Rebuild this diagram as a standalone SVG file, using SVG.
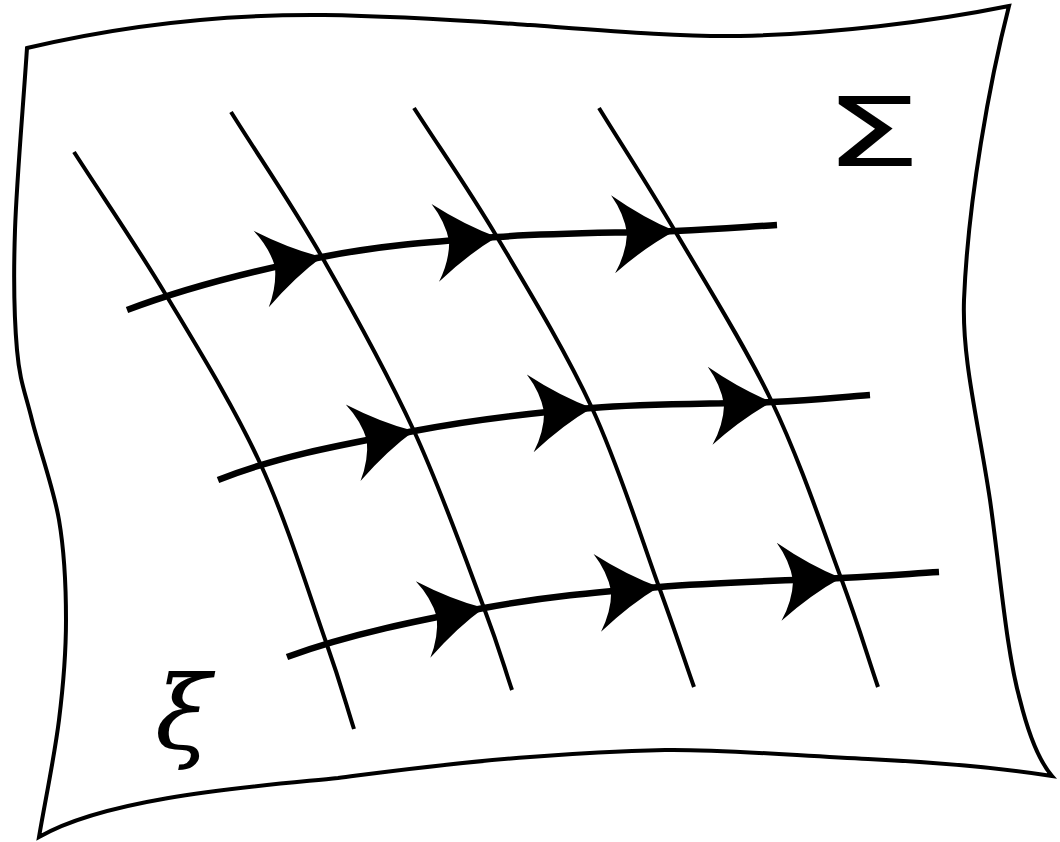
<svg xmlns="http://www.w3.org/2000/svg" width="1060" height="842" viewBox="0 0 1060 842">
<style>
.sheet{fill:none;stroke:#000;stroke-width:4;stroke-linejoin:miter}
.grid{fill:none;stroke:#000;stroke-width:4;stroke-linecap:butt}
.flow{fill:none;stroke:#000;stroke-width:6.5;stroke-linecap:butt}
.ah{fill:#000;stroke:none}
.lbl{fill:#000}
</style>
<defs>
<path id="ah" class="ah" d="M0,0 Q-30,-14 -62,-39 Q-50,-20 -48,0 Q-50,20 -62,39 Q-30,14 0,0 Z"/>
</defs>
<rect width="1060" height="842" fill="#fff"/>
<g id="sheet">
<path class="sheet" d="M27,48 C120,26 220,14 324,15 C400,16 470,21 530,25 C610,31 680,37 740,36 C830,34 930,22 1009,6 C990,80 968,200 964,300 C962,360 978,420 990,500 C1000,570 1006,650 1020,700 C1030,740 1040,762 1052,776 C1000,768 930,762 868,759 C800,756 720,749 665,750 C620,751 580,753 530,757 C450,763 400,770 338,778 C260,786 110,796 39,837 C45.7,798 54.5,756.2 59,720 C63.5,683.8 66,653.3 66,620 C66,586.7 64.7,553.3 59,520 C53.3,486.7 39,448.3 32,420 C25,391.7 19.8,381.7 17,350 C14.2,318.3 13.3,280.3 15,230 C16.7,179.7 23,108.7 27,48 Z"/>
</g>
<g id="grid-lines">
<path id="g1" class="grid" d="M74,152 C104.7,199.7 135,243.2 166,295 C197,346.8 233.3,405.2 260,463 C286.7,520.8 310.3,597.7 326,642 C341.7,686.3 344.7,700 354,729"/>
<path id="g2" class="grid" d="M231,112 C261.3,160.3 291.5,203.8 322,257 C352.5,310.2 387,372.5 414,431 C441,489.5 467.7,564.8 484,608 C500.3,651.2 502.7,662.7 512,690"/>
<path id="g3" class="grid" d="M414,108 C441.7,151 467.3,187 497,237 C526.7,287 565,349.7 592,408 C619,466.3 642,540.5 659,587 C676,633.5 682.3,653.7 694,687"/>
<path id="g4" class="grid" d="M599,108 C624.3,149 646.2,182 675,231 C703.8,280 744.3,344.2 772,402 C799.7,459.8 823.3,530.5 841,578 C858.7,625.5 865.7,650.7 878,687"/>
</g>
<g id="flow-lines">
<path id="f1" class="flow" d="M127,310 C190.3,286 260.3,269.2 322,257 C383.7,244.8 438.2,241.3 497,237 C555.8,232.7 628.3,233 675,231 C721.7,229 743,227 777,225"/>
<path id="f2" class="flow" d="M218,480 C281.3,454.7 351.7,443 414,431 C476.3,419 532.3,412.8 592,408 C651.7,403.2 725.7,404.2 772,402 C818.3,399.8 837.3,397.3 870,395"/>
<path id="f3" class="flow" d="M287,657 C350.3,633.7 422,619.7 484,608 C546,596.3 599.5,592 659,587 C718.5,582 794.3,580.5 841,578 C887.7,575.5 906.3,574 939,572"/>
</g>
<g id="arrowheads">
<use href="#ah" transform="translate(322,257) rotate(-11.2)"/>
<use href="#ah" transform="translate(497,237) rotate(-5.5)"/>
<use href="#ah" transform="translate(675,231) rotate(-3)"/>
<use href="#ah" transform="translate(414,431) rotate(-10.9)"/>
<use href="#ah" transform="translate(592,408) rotate(-5)"/>
<use href="#ah" transform="translate(772,402) rotate(-3.5)"/>
<use href="#ah" transform="translate(484,608) rotate(-10.7)"/>
<use href="#ah" transform="translate(659,587) rotate(-5.5)"/>
<use href="#ah" transform="translate(841,578) rotate(-3.5)"/>
</g>
<g id="labels">
<text id="sigma" class="lbl" transform="translate(872.5,166) scale(1.6,1)" text-anchor="middle" font-family="DejaVu Sans, sans-serif" font-size="97">Σ</text>
<text id="xi" class="lbl" x="183" y="749" text-anchor="middle" font-family="DejaVu Serif, serif" font-style="italic" font-size="102">ξ</text>
</g>
</svg>
